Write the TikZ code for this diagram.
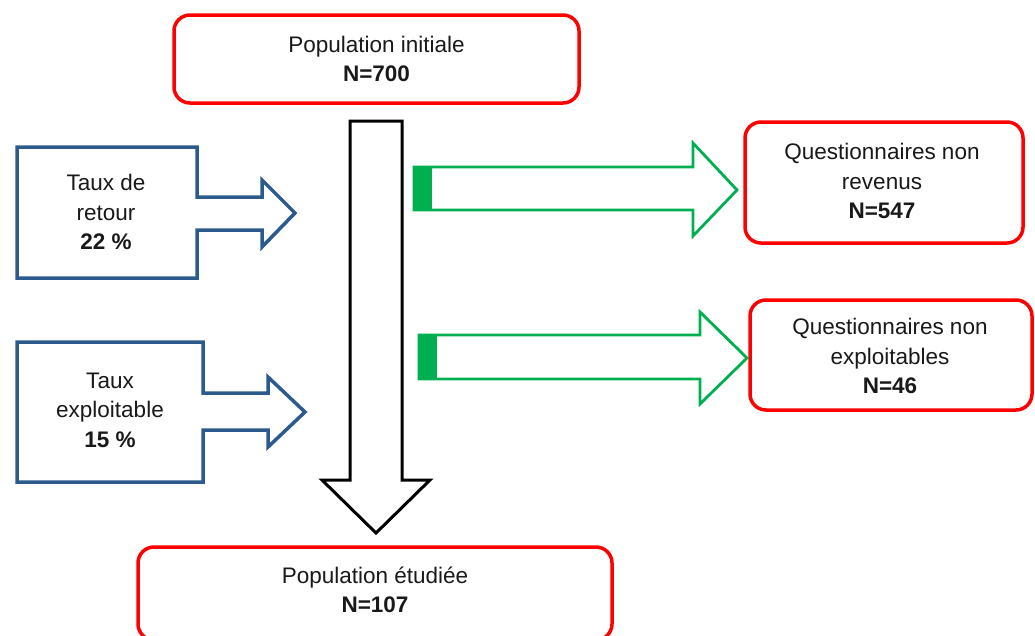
\documentclass[tikz,border=0pt]{standalone}
\usepackage{fontspec}
\setmainfont{Liberation Sans}
\definecolor{boxred}{HTML}{FF0000}
\definecolor{arrblue}{HTML}{2C5A8C}
\definecolor{arrgreen}{HTML}{00B050}
\begin{document}
\begin{tikzpicture}[x=1pt,y=-1pt,
  redbox/.style={draw=boxred,line width=3.5pt,rounded corners=16pt,fill=white},
  lbl/.style={align=center,font=\fontsize{22.5}{29.5}\selectfont,text=black!90,inner sep=0pt},
  bluearr/.style={draw=arrblue,line width=3.5pt,line join=miter,fill=white},
  greenarr/.style={draw=arrgreen,line width=2.8pt,line join=miter,fill=white},
  blackarr/.style={draw=black,line width=3pt,line join=miter,fill=white}]
\useasboundingbox (0,0) rectangle (1035,635);
% top box
\draw[redbox] (174,15) rectangle (579,103);
\node[lbl] (init) at (376.5,59) {Population initiale\\\textbf{N=700}};
% bottom box
\draw[redbox] (138,547) rectangle (612,640);
\node[lbl] (etud) at (375,590) {Population étudiée\\\textbf{N=107}};
% right boxes
\draw[redbox] (745,122) rectangle (1023,243);
\node[lbl] (nonrev) at (882,181) {Questionnaires non\\revenus\\\textbf{N=547}};
\draw[redbox] (750,300) rectangle (1032,410);
\node[lbl] (nonexp) at (890,356) {Questionnaires non\\exploitables\\\textbf{N=46}};
% big black arrow
\draw[blackarr] (350,121) -- (402,121) -- (402,480) -- (430,480) -- (376,533) -- (322,480) -- (350,480) -- cycle;
% blue callout arrows
\draw[bluearr] (17,147) -- (197,147) -- (197,197) -- (262,197) -- (262,180) -- (295,213) -- (262,247) -- (262,230) -- (197,230) -- (197,278) -- (17,278) -- cycle;
\node[lbl] (retour) at (106,212) {Taux de\\retour\\\textbf{22 \%}};
\draw[bluearr] (17,342) -- (203,342) -- (203,393) -- (268,393) -- (268,377) -- (305,412) -- (268,447) -- (268,430) -- (203,430) -- (203,482) -- (17,482) -- cycle;
\node[lbl] (exploit) at (110,410) {Taux\\exploitable\\\textbf{15 \%}};
% green striped arrows
\draw[greenarr] (414,167) -- (693,167) -- (693,143) -- (737,190) -- (693,236) -- (693,210) -- (414,210) -- cycle;
\fill[arrgreen] (414,167) rectangle (432,210);
\draw[greenarr] (419,335) -- (700,335) -- (700,312) -- (747,358) -- (700,404) -- (700,379) -- (419,379) -- cycle;
\fill[arrgreen] (419,335) rectangle (437,379);
\end{tikzpicture}
\end{document}
